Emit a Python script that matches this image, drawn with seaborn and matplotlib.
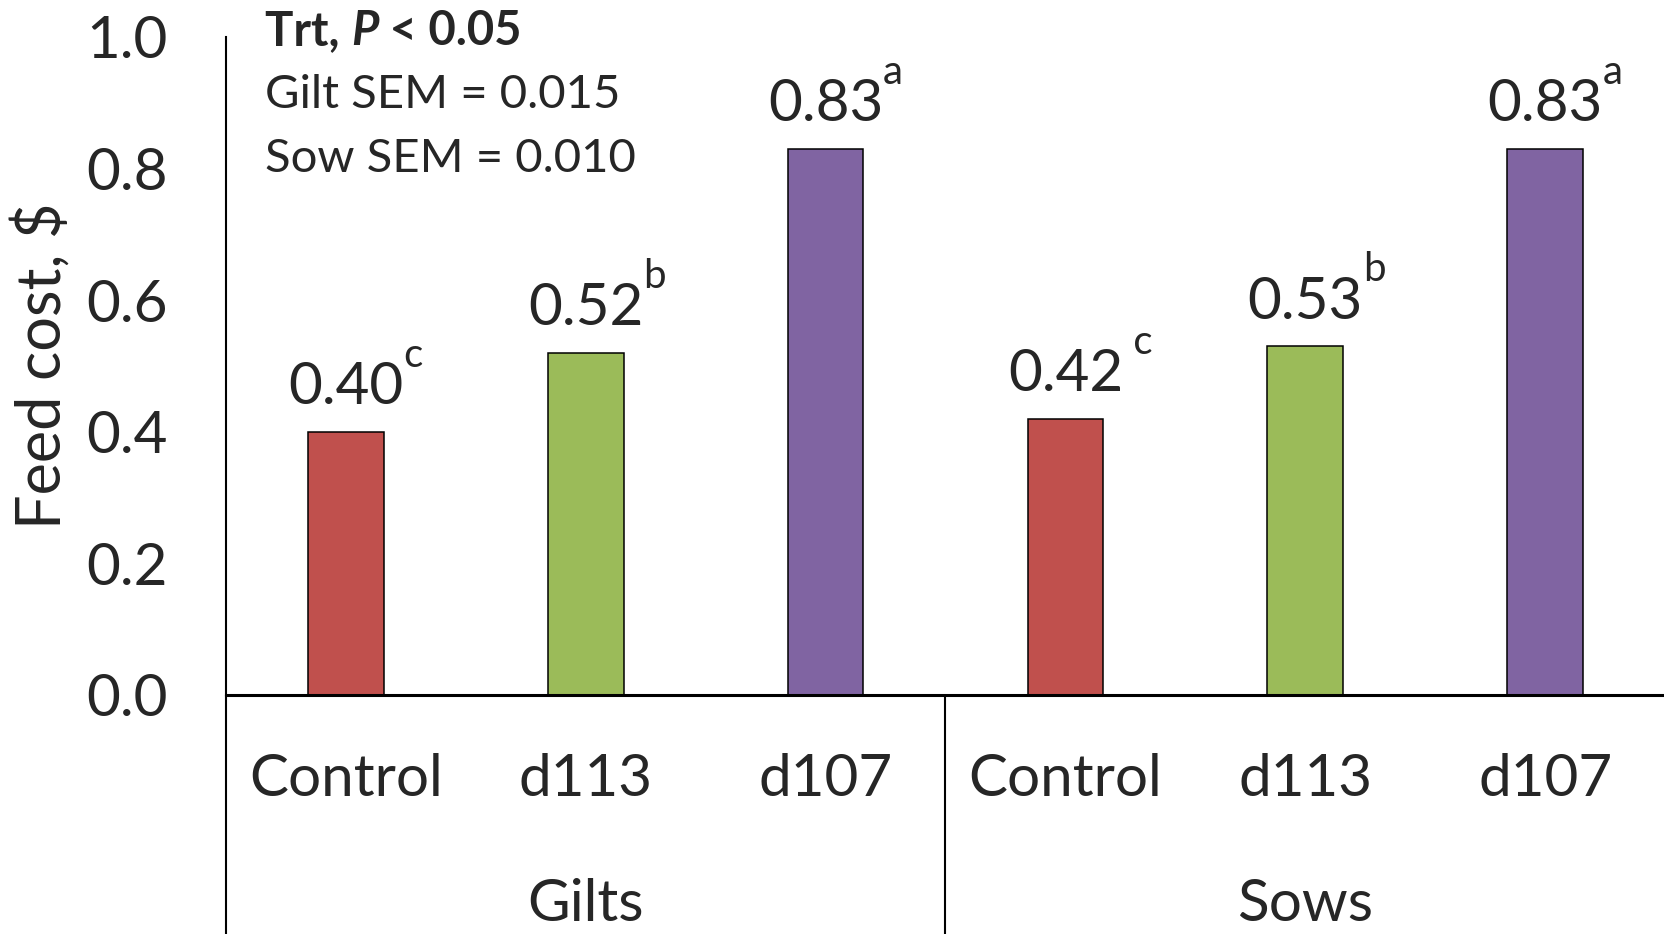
import numpy as np
import pandas as pd
import seaborn as sns
import matplotlib.pyplot as plt
import matplotlib.transforms as mtransforms

# bar values
groups = ['Gilts', 'Gilts', 'Gilts', 'Sows', 'Sows', 'Sows']
treatments = ['Control', 'd113', 'd107', 'Control', 'd113', 'd107']
feed_cost = [0.40, 0.52, 0.83, 0.42, 0.53, 0.83]
value_text = ['0.40', '0.52', '0.83', '0.42', '0.53', '0.83']
sup_letters = ['c', 'b', 'a', ' c', 'b', 'a']
trt_order = ['Control', 'd113', 'd107']
trt_colors = {'Control': '#C0504D', 'd113': '#9BBB59', 'd107': '#8064A2'}
y_ticks = [0.0, 0.2, 0.4, 0.6, 0.8, 1.0]

sns.set_style('white')
plt.rcParams['font.family'] = ['Lato', 'DejaVu Sans']

df = pd.DataFrame({'group': groups, 'trt': treatments, 'cost': feed_cost})
df['key'] = df['group'] + ' ' + df['trt']

W, H = 1665, 934
fig = plt.figure(figsize=(W / 100, H / 100), dpi=100)
ax = fig.add_axes([226 / W, 1 - 695 / H, 1 - 226 / W, 658 / H])

sns.barplot(data=df, x='key', y='cost', hue='trt', order=list(df['key']),
            hue_order=trt_order, palette=trt_colors, dodge=False, width=0.315,
            saturation=1, errorbar=None, edgecolor='black', linewidth=1.1,
            legend=False, ax=ax)

ax.set_xlim(-0.5, 5.5)
ax.set_ylim(0, 1.0)
ax.set_yticks(y_ticks)
ax.set_yticklabels([f'{v:.1f}' for v in y_ticks], fontsize=42)
ax.set_xticks(range(len(treatments)))
ax.set_xticklabels(treatments, fontsize=42)
plt.setp(ax.get_xticklabels(), va='center')
ax.tick_params(axis='y', length=0, pad=42)
ax.tick_params(axis='x', length=0, pad=61)
ax.set_xlabel('')
ax.set_ylabel('')

for s in ['top', 'right']:
    ax.spines[s].set_visible(False)
ax.spines['left'].set_linewidth(1.5)
ax.spines['bottom'].set_linewidth(2.2)
ax.spines['left'].set_color('black')
ax.spines['bottom'].set_color('black')

# category table lines under the axis
trans = mtransforms.blended_transform_factory(ax.transData, ax.transAxes)
for xv in [-0.5, 2.5]:
    ax.plot([xv, xv], [0, -0.4], transform=trans, clip_on=False,
            color='black', lw=1.5)

for xc, g in [(1, 'Gilts'), (4, 'Sows')]:
    ax.text(xc, -0.318, g, transform=trans, ha='center', va='center',
            fontsize=42)

# value labels with superscript letters
for i, (v, txt, sup) in enumerate(zip(feed_cost, value_text, sup_letters)):
    t = ax.text(i, v + 0.042, txt, ha='center', va='baseline', fontsize=42)
    ax.annotate(sup, xy=(1, v + 0.042), xycoords=(t, 'data'),
                xytext=(0, 27), textcoords='offset points',
                ha='left', va='baseline', fontsize=29)

fig.text(42 / W, 1 - 366 / H, 'Feed cost, $', rotation=90, ha='center',
         va='center', fontsize=44)

# stats note in the top left
y1 = 0.988
t1 = ax.text(0.027, y1, 'Trt, ', transform=ax.transAxes, fontsize=34,
             fontweight='bold', va='baseline')
t2 = ax.annotate('P', xy=(1, y1), xycoords=(t1, 'axes fraction'), fontsize=34,
                 fontweight='bold', fontstyle='italic', va='baseline')
ax.annotate(' < 0.05', xy=(1, y1), xycoords=(t2, 'axes fraction'), fontsize=34,
            fontweight='bold', va='baseline')
ax.text(0.027, 0.892, 'Gilt SEM = 0.015', transform=ax.transAxes, fontsize=34,
        va='baseline')
ax.text(0.027, 0.795, 'Sow SEM = 0.010', transform=ax.transAxes, fontsize=34,
        va='baseline')

fig.savefig('out.png', dpi=100, facecolor='white')
